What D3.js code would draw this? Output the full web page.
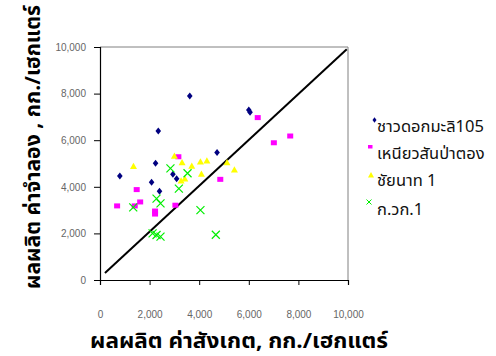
<!DOCTYPE html>
<html><head><meta charset="utf-8">
<script src="https://cdn.jsdelivr.net/npm/d3@7"></script>
<style>body{margin:0;background:#fff}</style>
</head><body>
<svg id="c" width="496" height="356"></svg>
<script>
const seriesNames = ["ชาวดอกมะลิ105", "เหนียวสันป่าตอง", "ชัยนาท 1", "ก.วก.1"];
const khdmlObs = [800, 2240, 2080, 2400, 2940, 3090, 4720, 3620, 2350, 6000, 6050];
const khdmlSim = [4460, 5010, 4190, 3810, 4540, 4350, 5470, 7900, 6400, 7300, 7200];
const nspObs = [690, 1480, 1620, 1400, 2220, 2220, 3040, 3160, 4850, 6360, 7010, 7670];
const nspSim = [3180, 3880, 3350, 3180, 2960, 2830, 3210, 5290, 4320, 6970, 5890, 6180];
const cnObs = [1350, 3000, 3310, 3270, 3420, 3700, 4050, 4310, 4090, 5120, 5420];
const cnSim = [4880, 5320, 5040, 4260, 4350, 4890, 5080, 5120, 4550, 5040, 4730];
const kwkObs = [1340, 2280, 2440, 2840, 3530, 3180, 4050, 2120, 2280, 2440, 4670];
const kwkSim = [3120, 3490, 3290, 4790, 4580, 3920, 3000, 2000, 1930, 1860, 1940];
const lineObs = [200, 9950];
const lineSim = [300, 9900];
const tickVals = [0, 2000, 4000, 6000, 8000, 10000];
const xTitle = "ผลผลิต ค่าสังเกต, กก./เฮกแตร์";
const yTitle = "ผลผลิต ค่าจำลอง , กก./เฮกแตร์";

const svg = d3.select("#c");
const L = 100, T = 47, R = 348, B = 280;
const x = d3.scaleLinear().domain([0, 10000]).range([L, R]);
const y = d3.scaleLinear().domain([0, 10000]).range([B, T]);
const fmt = d3.format(",");
const thai = "Tahoma, 'Noto Sans Thai', 'DejaVu Sans', sans-serif";

// border top/right
svg.append("line").attr("x1", L).attr("x2", R).attr("y1", T).attr("y2", T).attr("stroke", "#808080");
svg.append("line").attr("x1", R).attr("x2", R).attr("y1", T).attr("y2", B).attr("stroke", "#808080");

const yAxis = svg.append("g").attr("transform", `translate(${L},0)`)
  .call(d3.axisLeft(y).tickValues(tickVals).tickFormat(fmt).tickSize(6).tickPadding(8));
const xAxis = svg.append("g").attr("transform", `translate(0,${B})`)
  .call(d3.axisBottom(x).tickValues(tickVals).tickFormat(fmt).tickSize(5).tickPadding(26));
[yAxis, xAxis].forEach(g => {
  g.select(".domain").attr("stroke", "#000").attr("stroke-width", 1.2);
  g.selectAll(".tick line").attr("stroke", "#000");
  g.selectAll("text").attr("fill", "#666").style("font-family", "'Liberation Sans', Arial, sans-serif").style("font-size", "10px");
});

// 1:1 line
svg.append("path").datum(d3.zip(lineObs, lineSim))
  .attr("d", d3.line().x(d => x(d[0])).y(d => y(d[1])))
  .attr("stroke", "#000").attr("stroke-width", 2).attr("fill", "none");

const diamond = (cx, cy, w, h) => `M${cx},${cy - h}L${cx + w},${cy}L${cx},${cy + h}L${cx - w},${cy}Z`;
const tri = (cx, cy, s) => `M${cx},${cy - s}L${cx + s},${cy + s * 0.8}L${cx - s},${cy + s * 0.8}Z`;

// series
const g = svg.append("g");
g.selectAll(".d").data(d3.zip(khdmlObs, khdmlSim)).join("path")
  .attr("d", d => diamond(x(d[0]), y(d[1]), 2.8, 3.5)).attr("fill", "#000080");
g.selectAll(".s").data(d3.zip(nspObs, nspSim)).join("rect")
  .attr("x", d => x(d[0]) - 3).attr("y", d => y(d[1]) - 2.5).attr("width", 6).attr("height", 5).attr("fill", "#ff00ff");
g.selectAll(".t").data(d3.zip(cnObs, cnSim)).join("path")
  .attr("d", d => tri(x(d[0]), y(d[1]), 3.5)).attr("fill", "#ffff00");
g.selectAll(".x").data(d3.zip(kwkObs, kwkSim)).join("path")
  .attr("d", d => { const cx = x(d[0]), cy = y(d[1]), s = 4; return `M${cx - s},${cy - s}L${cx + s},${cy + s}M${cx - s},${cy + s}L${cx + s},${cy - s}`; })
  .attr("stroke", "#00ee00").attr("stroke-width", 1.2).attr("fill", "none");

// legend
const lx = 377, ly = [132, 159, 186, 215];
const lg = svg.append("g");
lg.append("path").attr("d", diamond(374.5, 120, 2, 2.8)).attr("fill", "#000080");
lg.append("rect").attr("x", 368).attr("y", 145).attr("width", 4.5).attr("height", 3.5).attr("fill", "#ff00ff");
lg.append("path").attr("d", tri(371, 175, 3)).attr("fill", "#ffff00");
lg.append("path").attr("d", "M366.5,199.5L371.5,204.5M366.5,204.5L371.5,199.5").attr("stroke", "#00ee00").attr("stroke-width", 1);
lg.selectAll("text").data(seriesNames).join("text")
  .attr("x", lx).attr("y", (d, i) => ly[i]).text(d => d)
  .style("font-family", thai).style("font-size", "16.5px").attr("fill", "#111");

// titles
svg.append("text").attr("x", 239).attr("y", 348).attr("text-anchor", "middle").text(xTitle)
  .attr("textLength", 298).attr("lengthAdjust", "spacingAndGlyphs")
  .style("font-family", thai).style("font-size", "21px").style("font-weight", "bold");
svg.append("text").attr("transform", "translate(40,147) rotate(-90)").attr("text-anchor", "middle").text(yTitle)
  .attr("textLength", 284).attr("lengthAdjust", "spacingAndGlyphs")
  .style("font-family", thai).style("font-size", "21px").style("font-weight", "bold");
</script>
</body></html>
